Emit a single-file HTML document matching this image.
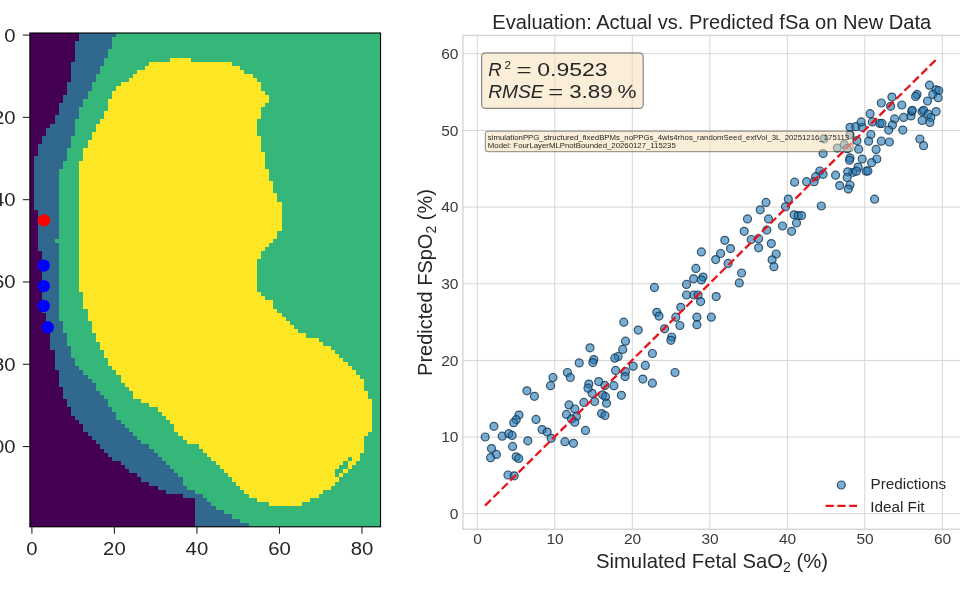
<!DOCTYPE html><html><head><meta charset="utf-8"><style>html,body{margin:0;padding:0;background:#fff;width:960px;height:606px;overflow:hidden}svg{display:block;will-change:transform}text{font-family:"Liberation Sans",sans-serif}</style></head><body>
<svg width="960" height="606" viewBox="0 0 960 606">
<rect width="960" height="606" fill="#fff"/>
<g shape-rendering="crispEdges"><rect x="30" y="33" width="351" height="494" fill="#35b779"/>
<rect x="30" y="33" width="49" height="4" fill="#440154"/>
<rect x="79" y="33" width="37" height="4" fill="#31688e"/>
<rect x="30" y="37" width="49" height="4" fill="#440154"/>
<rect x="79" y="37" width="33" height="4" fill="#31688e"/>
<rect x="30" y="41" width="45" height="4" fill="#440154"/>
<rect x="75" y="41" width="37" height="4" fill="#31688e"/>
<rect x="30" y="45" width="45" height="4" fill="#440154"/>
<rect x="75" y="45" width="37" height="4" fill="#31688e"/>
<rect x="30" y="49" width="45" height="5" fill="#440154"/>
<rect x="75" y="49" width="33" height="5" fill="#31688e"/>
<rect x="30" y="54" width="45" height="4" fill="#440154"/>
<rect x="75" y="54" width="33" height="4" fill="#31688e"/>
<rect x="30" y="58" width="45" height="4" fill="#440154"/>
<rect x="75" y="58" width="29" height="4" fill="#31688e"/>
<rect x="170" y="58" width="21" height="4" fill="#fde725"/>
<rect x="30" y="62" width="41" height="4" fill="#440154"/>
<rect x="71" y="62" width="33" height="4" fill="#31688e"/>
<rect x="149" y="62" width="83" height="4" fill="#fde725"/>
<rect x="30" y="66" width="41" height="4" fill="#440154"/>
<rect x="71" y="66" width="29" height="4" fill="#31688e"/>
<rect x="145" y="66" width="95" height="4" fill="#fde725"/>
<rect x="30" y="70" width="41" height="4" fill="#440154"/>
<rect x="71" y="70" width="29" height="4" fill="#31688e"/>
<rect x="137" y="70" width="107" height="4" fill="#fde725"/>
<rect x="30" y="74" width="41" height="4" fill="#440154"/>
<rect x="71" y="74" width="25" height="4" fill="#31688e"/>
<rect x="133" y="74" width="120" height="4" fill="#fde725"/>
<rect x="30" y="78" width="41" height="4" fill="#440154"/>
<rect x="71" y="78" width="25" height="4" fill="#31688e"/>
<rect x="129" y="78" width="128" height="4" fill="#fde725"/>
<rect x="30" y="82" width="37" height="4" fill="#440154"/>
<rect x="67" y="82" width="25" height="4" fill="#31688e"/>
<rect x="121" y="82" width="140" height="4" fill="#fde725"/>
<rect x="30" y="86" width="37" height="5" fill="#440154"/>
<rect x="67" y="86" width="25" height="5" fill="#31688e"/>
<rect x="116" y="86" width="145" height="5" fill="#fde725"/>
<rect x="30" y="91" width="37" height="4" fill="#440154"/>
<rect x="67" y="91" width="21" height="4" fill="#31688e"/>
<rect x="112" y="91" width="153" height="4" fill="#fde725"/>
<rect x="30" y="95" width="33" height="4" fill="#440154"/>
<rect x="63" y="95" width="25" height="4" fill="#31688e"/>
<rect x="112" y="95" width="157" height="4" fill="#fde725"/>
<rect x="30" y="99" width="33" height="4" fill="#440154"/>
<rect x="63" y="99" width="20" height="4" fill="#31688e"/>
<rect x="108" y="99" width="161" height="4" fill="#fde725"/>
<rect x="30" y="103" width="29" height="4" fill="#440154"/>
<rect x="59" y="103" width="24" height="4" fill="#31688e"/>
<rect x="108" y="103" width="157" height="4" fill="#fde725"/>
<rect x="30" y="107" width="29" height="4" fill="#440154"/>
<rect x="59" y="107" width="20" height="4" fill="#31688e"/>
<rect x="108" y="107" width="153" height="4" fill="#fde725"/>
<rect x="30" y="111" width="29" height="4" fill="#440154"/>
<rect x="59" y="111" width="20" height="4" fill="#31688e"/>
<rect x="104" y="111" width="157" height="4" fill="#fde725"/>
<rect x="30" y="115" width="25" height="4" fill="#440154"/>
<rect x="55" y="115" width="24" height="4" fill="#31688e"/>
<rect x="104" y="115" width="157" height="4" fill="#fde725"/>
<rect x="30" y="119" width="25" height="5" fill="#440154"/>
<rect x="55" y="119" width="20" height="5" fill="#31688e"/>
<rect x="100" y="119" width="157" height="5" fill="#fde725"/>
<rect x="30" y="124" width="20" height="4" fill="#440154"/>
<rect x="50" y="124" width="25" height="4" fill="#31688e"/>
<rect x="96" y="124" width="161" height="4" fill="#fde725"/>
<rect x="30" y="128" width="16" height="4" fill="#440154"/>
<rect x="46" y="128" width="29" height="4" fill="#31688e"/>
<rect x="96" y="128" width="161" height="4" fill="#fde725"/>
<rect x="30" y="132" width="16" height="4" fill="#440154"/>
<rect x="46" y="132" width="29" height="4" fill="#31688e"/>
<rect x="92" y="132" width="165" height="4" fill="#fde725"/>
<rect x="30" y="136" width="12" height="4" fill="#440154"/>
<rect x="42" y="136" width="29" height="4" fill="#31688e"/>
<rect x="92" y="136" width="169" height="4" fill="#fde725"/>
<rect x="30" y="140" width="12" height="4" fill="#440154"/>
<rect x="42" y="140" width="29" height="4" fill="#31688e"/>
<rect x="88" y="140" width="173" height="4" fill="#fde725"/>
<rect x="30" y="144" width="8" height="4" fill="#440154"/>
<rect x="38" y="144" width="33" height="4" fill="#31688e"/>
<rect x="88" y="144" width="173" height="4" fill="#fde725"/>
<rect x="30" y="148" width="8" height="4" fill="#440154"/>
<rect x="38" y="148" width="29" height="4" fill="#31688e"/>
<rect x="83" y="148" width="178" height="4" fill="#fde725"/>
<rect x="30" y="152" width="8" height="4" fill="#440154"/>
<rect x="38" y="152" width="29" height="4" fill="#31688e"/>
<rect x="83" y="152" width="182" height="4" fill="#fde725"/>
<rect x="30" y="156" width="4" height="5" fill="#440154"/>
<rect x="34" y="156" width="33" height="5" fill="#31688e"/>
<rect x="83" y="156" width="182" height="5" fill="#fde725"/>
<rect x="30" y="161" width="4" height="4" fill="#440154"/>
<rect x="34" y="161" width="29" height="4" fill="#31688e"/>
<rect x="79" y="161" width="186" height="4" fill="#fde725"/>
<rect x="30" y="165" width="4" height="4" fill="#440154"/>
<rect x="34" y="165" width="29" height="4" fill="#31688e"/>
<rect x="79" y="165" width="186" height="4" fill="#fde725"/>
<rect x="30" y="169" width="4" height="4" fill="#440154"/>
<rect x="34" y="169" width="25" height="4" fill="#31688e"/>
<rect x="79" y="169" width="190" height="4" fill="#fde725"/>
<rect x="30" y="173" width="4" height="4" fill="#440154"/>
<rect x="34" y="173" width="25" height="4" fill="#31688e"/>
<rect x="79" y="173" width="190" height="4" fill="#fde725"/>
<rect x="30" y="177" width="4" height="4" fill="#440154"/>
<rect x="34" y="177" width="25" height="4" fill="#31688e"/>
<rect x="79" y="177" width="190" height="4" fill="#fde725"/>
<rect x="30" y="181" width="4" height="4" fill="#440154"/>
<rect x="34" y="181" width="25" height="4" fill="#31688e"/>
<rect x="79" y="181" width="194" height="4" fill="#fde725"/>
<rect x="30" y="185" width="4" height="4" fill="#440154"/>
<rect x="34" y="185" width="25" height="4" fill="#31688e"/>
<rect x="79" y="185" width="194" height="4" fill="#fde725"/>
<rect x="30" y="189" width="4" height="4" fill="#440154"/>
<rect x="34" y="189" width="25" height="4" fill="#31688e"/>
<rect x="79" y="189" width="194" height="4" fill="#fde725"/>
<rect x="30" y="193" width="4" height="5" fill="#440154"/>
<rect x="34" y="193" width="25" height="5" fill="#31688e"/>
<rect x="79" y="193" width="198" height="5" fill="#fde725"/>
<rect x="30" y="198" width="4" height="4" fill="#440154"/>
<rect x="34" y="198" width="25" height="4" fill="#31688e"/>
<rect x="79" y="198" width="198" height="4" fill="#fde725"/>
<rect x="30" y="202" width="4" height="4" fill="#440154"/>
<rect x="34" y="202" width="25" height="4" fill="#31688e"/>
<rect x="79" y="202" width="203" height="4" fill="#fde725"/>
<rect x="30" y="206" width="4" height="4" fill="#440154"/>
<rect x="34" y="206" width="25" height="4" fill="#31688e"/>
<rect x="79" y="206" width="203" height="4" fill="#fde725"/>
<rect x="30" y="210" width="8" height="4" fill="#440154"/>
<rect x="38" y="210" width="21" height="4" fill="#31688e"/>
<rect x="79" y="210" width="203" height="4" fill="#fde725"/>
<rect x="30" y="214" width="8" height="4" fill="#440154"/>
<rect x="38" y="214" width="21" height="4" fill="#31688e"/>
<rect x="79" y="214" width="203" height="4" fill="#fde725"/>
<rect x="30" y="218" width="8" height="4" fill="#440154"/>
<rect x="38" y="218" width="21" height="4" fill="#31688e"/>
<rect x="79" y="218" width="203" height="4" fill="#fde725"/>
<rect x="30" y="222" width="8" height="4" fill="#440154"/>
<rect x="38" y="222" width="21" height="4" fill="#31688e"/>
<rect x="79" y="222" width="203" height="4" fill="#fde725"/>
<rect x="30" y="226" width="8" height="5" fill="#440154"/>
<rect x="38" y="226" width="21" height="5" fill="#31688e"/>
<rect x="79" y="226" width="203" height="5" fill="#fde725"/>
<rect x="30" y="231" width="8" height="4" fill="#440154"/>
<rect x="38" y="231" width="21" height="4" fill="#31688e"/>
<rect x="79" y="231" width="198" height="4" fill="#fde725"/>
<rect x="30" y="235" width="8" height="4" fill="#440154"/>
<rect x="38" y="235" width="21" height="4" fill="#31688e"/>
<rect x="79" y="235" width="198" height="4" fill="#fde725"/>
<rect x="30" y="239" width="8" height="4" fill="#440154"/>
<rect x="38" y="239" width="17" height="4" fill="#31688e"/>
<rect x="79" y="239" width="194" height="4" fill="#fde725"/>
<rect x="30" y="243" width="8" height="4" fill="#440154"/>
<rect x="38" y="243" width="21" height="4" fill="#31688e"/>
<rect x="79" y="243" width="190" height="4" fill="#fde725"/>
<rect x="30" y="247" width="8" height="4" fill="#440154"/>
<rect x="38" y="247" width="21" height="4" fill="#31688e"/>
<rect x="79" y="247" width="186" height="4" fill="#fde725"/>
<rect x="30" y="251" width="12" height="4" fill="#440154"/>
<rect x="42" y="251" width="17" height="4" fill="#31688e"/>
<rect x="79" y="251" width="182" height="4" fill="#fde725"/>
<rect x="30" y="255" width="12" height="4" fill="#440154"/>
<rect x="42" y="255" width="17" height="4" fill="#31688e"/>
<rect x="79" y="255" width="182" height="4" fill="#fde725"/>
<rect x="30" y="259" width="12" height="4" fill="#440154"/>
<rect x="42" y="259" width="17" height="4" fill="#31688e"/>
<rect x="79" y="259" width="178" height="4" fill="#fde725"/>
<rect x="30" y="263" width="12" height="5" fill="#440154"/>
<rect x="42" y="263" width="17" height="5" fill="#31688e"/>
<rect x="79" y="263" width="178" height="5" fill="#fde725"/>
<rect x="30" y="268" width="12" height="4" fill="#440154"/>
<rect x="42" y="268" width="17" height="4" fill="#31688e"/>
<rect x="79" y="268" width="178" height="4" fill="#fde725"/>
<rect x="30" y="272" width="12" height="4" fill="#440154"/>
<rect x="42" y="272" width="17" height="4" fill="#31688e"/>
<rect x="79" y="272" width="178" height="4" fill="#fde725"/>
<rect x="30" y="276" width="12" height="4" fill="#440154"/>
<rect x="42" y="276" width="17" height="4" fill="#31688e"/>
<rect x="79" y="276" width="178" height="4" fill="#fde725"/>
<rect x="30" y="280" width="12" height="4" fill="#440154"/>
<rect x="42" y="280" width="17" height="4" fill="#31688e"/>
<rect x="79" y="280" width="178" height="4" fill="#fde725"/>
<rect x="30" y="284" width="12" height="4" fill="#440154"/>
<rect x="42" y="284" width="17" height="4" fill="#31688e"/>
<rect x="79" y="284" width="178" height="4" fill="#fde725"/>
<rect x="30" y="288" width="12" height="4" fill="#440154"/>
<rect x="42" y="288" width="17" height="4" fill="#31688e"/>
<rect x="79" y="288" width="178" height="4" fill="#fde725"/>
<rect x="30" y="292" width="12" height="4" fill="#440154"/>
<rect x="42" y="292" width="17" height="4" fill="#31688e"/>
<rect x="83" y="292" width="178" height="4" fill="#fde725"/>
<rect x="30" y="296" width="12" height="4" fill="#440154"/>
<rect x="42" y="296" width="17" height="4" fill="#31688e"/>
<rect x="83" y="296" width="182" height="4" fill="#fde725"/>
<rect x="30" y="300" width="12" height="5" fill="#440154"/>
<rect x="42" y="300" width="17" height="5" fill="#31688e"/>
<rect x="83" y="300" width="190" height="5" fill="#fde725"/>
<rect x="30" y="305" width="12" height="4" fill="#440154"/>
<rect x="42" y="305" width="17" height="4" fill="#31688e"/>
<rect x="83" y="305" width="190" height="4" fill="#fde725"/>
<rect x="30" y="309" width="12" height="4" fill="#440154"/>
<rect x="42" y="309" width="17" height="4" fill="#31688e"/>
<rect x="88" y="309" width="189" height="4" fill="#fde725"/>
<rect x="30" y="313" width="16" height="4" fill="#440154"/>
<rect x="46" y="313" width="13" height="4" fill="#31688e"/>
<rect x="88" y="313" width="194" height="4" fill="#fde725"/>
<rect x="30" y="317" width="16" height="4" fill="#440154"/>
<rect x="46" y="317" width="13" height="4" fill="#31688e"/>
<rect x="88" y="317" width="198" height="4" fill="#fde725"/>
<rect x="30" y="321" width="16" height="4" fill="#440154"/>
<rect x="46" y="321" width="17" height="4" fill="#31688e"/>
<rect x="92" y="321" width="198" height="4" fill="#fde725"/>
<rect x="30" y="325" width="16" height="4" fill="#440154"/>
<rect x="46" y="325" width="17" height="4" fill="#31688e"/>
<rect x="92" y="325" width="202" height="4" fill="#fde725"/>
<rect x="30" y="329" width="16" height="4" fill="#440154"/>
<rect x="46" y="329" width="17" height="4" fill="#31688e"/>
<rect x="92" y="329" width="206" height="4" fill="#fde725"/>
<rect x="30" y="333" width="20" height="5" fill="#440154"/>
<rect x="50" y="333" width="17" height="5" fill="#31688e"/>
<rect x="96" y="333" width="210" height="5" fill="#fde725"/>
<rect x="30" y="338" width="20" height="4" fill="#440154"/>
<rect x="50" y="338" width="17" height="4" fill="#31688e"/>
<rect x="96" y="338" width="223" height="4" fill="#fde725"/>
<rect x="30" y="342" width="20" height="4" fill="#440154"/>
<rect x="50" y="342" width="17" height="4" fill="#31688e"/>
<rect x="100" y="342" width="223" height="4" fill="#fde725"/>
<rect x="30" y="346" width="20" height="4" fill="#440154"/>
<rect x="50" y="346" width="21" height="4" fill="#31688e"/>
<rect x="100" y="346" width="231" height="4" fill="#fde725"/>
<rect x="30" y="350" width="25" height="4" fill="#440154"/>
<rect x="55" y="350" width="16" height="4" fill="#31688e"/>
<rect x="104" y="350" width="231" height="4" fill="#fde725"/>
<rect x="30" y="354" width="25" height="4" fill="#440154"/>
<rect x="55" y="354" width="16" height="4" fill="#31688e"/>
<rect x="104" y="354" width="235" height="4" fill="#fde725"/>
<rect x="30" y="358" width="25" height="4" fill="#440154"/>
<rect x="55" y="358" width="20" height="4" fill="#31688e"/>
<rect x="108" y="358" width="235" height="4" fill="#fde725"/>
<rect x="30" y="362" width="25" height="4" fill="#440154"/>
<rect x="55" y="362" width="20" height="4" fill="#31688e"/>
<rect x="108" y="362" width="240" height="4" fill="#fde725"/>
<rect x="30" y="366" width="25" height="4" fill="#440154"/>
<rect x="55" y="366" width="24" height="4" fill="#31688e"/>
<rect x="112" y="366" width="240" height="4" fill="#fde725"/>
<rect x="30" y="370" width="29" height="5" fill="#440154"/>
<rect x="59" y="370" width="24" height="5" fill="#31688e"/>
<rect x="116" y="370" width="240" height="5" fill="#fde725"/>
<rect x="30" y="375" width="29" height="4" fill="#440154"/>
<rect x="59" y="375" width="29" height="4" fill="#31688e"/>
<rect x="121" y="375" width="239" height="4" fill="#fde725"/>
<rect x="30" y="379" width="29" height="4" fill="#440154"/>
<rect x="59" y="379" width="33" height="4" fill="#31688e"/>
<rect x="121" y="379" width="243" height="4" fill="#fde725"/>
<rect x="30" y="383" width="29" height="4" fill="#440154"/>
<rect x="59" y="383" width="37" height="4" fill="#31688e"/>
<rect x="125" y="383" width="239" height="4" fill="#fde725"/>
<rect x="30" y="387" width="33" height="4" fill="#440154"/>
<rect x="63" y="387" width="33" height="4" fill="#31688e"/>
<rect x="129" y="387" width="235" height="4" fill="#fde725"/>
<rect x="30" y="391" width="33" height="4" fill="#440154"/>
<rect x="63" y="391" width="37" height="4" fill="#31688e"/>
<rect x="133" y="391" width="235" height="4" fill="#fde725"/>
<rect x="30" y="395" width="33" height="4" fill="#440154"/>
<rect x="63" y="395" width="41" height="4" fill="#31688e"/>
<rect x="133" y="395" width="235" height="4" fill="#fde725"/>
<rect x="30" y="399" width="37" height="4" fill="#440154"/>
<rect x="67" y="399" width="41" height="4" fill="#31688e"/>
<rect x="141" y="399" width="231" height="4" fill="#fde725"/>
<rect x="30" y="403" width="37" height="4" fill="#440154"/>
<rect x="67" y="403" width="41" height="4" fill="#31688e"/>
<rect x="149" y="403" width="223" height="4" fill="#fde725"/>
<rect x="30" y="407" width="41" height="5" fill="#440154"/>
<rect x="71" y="407" width="41" height="5" fill="#31688e"/>
<rect x="158" y="407" width="214" height="5" fill="#fde725"/>
<rect x="30" y="412" width="41" height="4" fill="#440154"/>
<rect x="71" y="412" width="45" height="4" fill="#31688e"/>
<rect x="162" y="412" width="210" height="4" fill="#fde725"/>
<rect x="30" y="416" width="45" height="4" fill="#440154"/>
<rect x="75" y="416" width="41" height="4" fill="#31688e"/>
<rect x="166" y="416" width="206" height="4" fill="#fde725"/>
<rect x="30" y="420" width="49" height="4" fill="#440154"/>
<rect x="79" y="420" width="42" height="4" fill="#31688e"/>
<rect x="170" y="420" width="202" height="4" fill="#fde725"/>
<rect x="30" y="424" width="53" height="4" fill="#440154"/>
<rect x="83" y="424" width="42" height="4" fill="#31688e"/>
<rect x="174" y="424" width="198" height="4" fill="#fde725"/>
<rect x="30" y="428" width="53" height="4" fill="#440154"/>
<rect x="83" y="428" width="46" height="4" fill="#31688e"/>
<rect x="174" y="428" width="198" height="4" fill="#fde725"/>
<rect x="30" y="432" width="58" height="4" fill="#440154"/>
<rect x="88" y="432" width="45" height="4" fill="#31688e"/>
<rect x="178" y="432" width="190" height="4" fill="#fde725"/>
<rect x="30" y="436" width="62" height="4" fill="#440154"/>
<rect x="92" y="436" width="45" height="4" fill="#31688e"/>
<rect x="183" y="436" width="181" height="4" fill="#fde725"/>
<rect x="30" y="440" width="66" height="4" fill="#440154"/>
<rect x="96" y="440" width="45" height="4" fill="#31688e"/>
<rect x="187" y="440" width="177" height="4" fill="#fde725"/>
<rect x="30" y="444" width="70" height="5" fill="#440154"/>
<rect x="100" y="444" width="49" height="5" fill="#31688e"/>
<rect x="199" y="444" width="165" height="5" fill="#fde725"/>
<rect x="30" y="449" width="74" height="4" fill="#440154"/>
<rect x="104" y="449" width="50" height="4" fill="#31688e"/>
<rect x="203" y="449" width="161" height="4" fill="#fde725"/>
<rect x="30" y="453" width="78" height="4" fill="#440154"/>
<rect x="108" y="453" width="50" height="4" fill="#31688e"/>
<rect x="207" y="453" width="153" height="4" fill="#fde725"/>
<rect x="30" y="457" width="82" height="4" fill="#440154"/>
<rect x="112" y="457" width="50" height="4" fill="#31688e"/>
<rect x="211" y="457" width="137" height="4" fill="#fde725"/>
<rect x="352" y="457" width="8" height="4" fill="#fde725"/>
<rect x="30" y="461" width="91" height="4" fill="#440154"/>
<rect x="121" y="461" width="45" height="4" fill="#31688e"/>
<rect x="216" y="461" width="127" height="4" fill="#fde725"/>
<rect x="348" y="461" width="8" height="4" fill="#fde725"/>
<rect x="30" y="465" width="95" height="4" fill="#440154"/>
<rect x="125" y="465" width="45" height="4" fill="#31688e"/>
<rect x="220" y="465" width="119" height="4" fill="#fde725"/>
<rect x="348" y="465" width="4" height="4" fill="#fde725"/>
<rect x="30" y="469" width="99" height="4" fill="#440154"/>
<rect x="129" y="469" width="45" height="4" fill="#31688e"/>
<rect x="224" y="469" width="111" height="4" fill="#fde725"/>
<rect x="343" y="469" width="5" height="4" fill="#fde725"/>
<rect x="30" y="473" width="107" height="4" fill="#440154"/>
<rect x="137" y="473" width="41" height="4" fill="#31688e"/>
<rect x="228" y="473" width="107" height="4" fill="#fde725"/>
<rect x="339" y="473" width="4" height="4" fill="#fde725"/>
<rect x="30" y="477" width="111" height="5" fill="#440154"/>
<rect x="141" y="477" width="42" height="5" fill="#31688e"/>
<rect x="232" y="477" width="107" height="5" fill="#fde725"/>
<rect x="30" y="482" width="119" height="4" fill="#440154"/>
<rect x="149" y="482" width="34" height="4" fill="#31688e"/>
<rect x="236" y="482" width="99" height="4" fill="#fde725"/>
<rect x="30" y="486" width="128" height="4" fill="#440154"/>
<rect x="158" y="486" width="29" height="4" fill="#31688e"/>
<rect x="240" y="486" width="91" height="4" fill="#fde725"/>
<rect x="30" y="490" width="136" height="4" fill="#440154"/>
<rect x="166" y="490" width="29" height="4" fill="#31688e"/>
<rect x="244" y="490" width="79" height="4" fill="#fde725"/>
<rect x="30" y="494" width="153" height="4" fill="#440154"/>
<rect x="183" y="494" width="20" height="4" fill="#31688e"/>
<rect x="249" y="494" width="70" height="4" fill="#fde725"/>
<rect x="30" y="498" width="165" height="4" fill="#440154"/>
<rect x="195" y="498" width="12" height="4" fill="#31688e"/>
<rect x="257" y="498" width="53" height="4" fill="#fde725"/>
<rect x="30" y="502" width="165" height="4" fill="#440154"/>
<rect x="195" y="502" width="16" height="4" fill="#31688e"/>
<rect x="269" y="502" width="33" height="4" fill="#fde725"/>
<rect x="30" y="506" width="165" height="4" fill="#440154"/>
<rect x="195" y="506" width="21" height="4" fill="#31688e"/>
<rect x="30" y="510" width="165" height="4" fill="#440154"/>
<rect x="195" y="510" width="29" height="4" fill="#31688e"/>
<rect x="30" y="514" width="165" height="5" fill="#440154"/>
<rect x="195" y="514" width="37" height="5" fill="#31688e"/>
<rect x="30" y="519" width="165" height="4" fill="#440154"/>
<rect x="195" y="519" width="45" height="4" fill="#31688e"/>
<rect x="30" y="523" width="165" height="4" fill="#440154"/>
<rect x="195" y="523" width="54" height="4" fill="#31688e"/>
</g>
<circle cx="44.0" cy="220.4" r="6.2" fill="#ff0000"/>
<circle cx="43.8" cy="265.6" r="6.2" fill="#0000ff"/>
<circle cx="43.8" cy="286.1" r="6.2" fill="#0000ff"/>
<circle cx="43.8" cy="306.0" r="6.2" fill="#0000ff"/>
<circle cx="47.8" cy="327.3" r="6.2" fill="#0000ff"/>
<rect x="29.84" y="33.00" width="350.71" height="493.80" fill="none" stroke="#000" stroke-width="1.1"/>
<line x1="22.84" y1="35.06" x2="29.84" y2="35.06" stroke="#262626" stroke-width="1.1"/>
<text x="4.24" y="41.56" font-size="18" fill="#262626" textLength="11.3" lengthAdjust="spacingAndGlyphs">0</text>
<line x1="22.84" y1="117.36" x2="29.84" y2="117.36" stroke="#262626" stroke-width="1.1"/>
<text x="-7.06" y="123.86" font-size="18" fill="#262626" textLength="22.6" lengthAdjust="spacingAndGlyphs">20</text>
<line x1="22.84" y1="199.66" x2="29.84" y2="199.66" stroke="#262626" stroke-width="1.1"/>
<text x="-7.06" y="206.16" font-size="18" fill="#262626" textLength="22.6" lengthAdjust="spacingAndGlyphs">40</text>
<line x1="22.84" y1="281.96" x2="29.84" y2="281.96" stroke="#262626" stroke-width="1.1"/>
<text x="-7.06" y="288.46" font-size="18" fill="#262626" textLength="22.6" lengthAdjust="spacingAndGlyphs">60</text>
<line x1="22.84" y1="364.26" x2="29.84" y2="364.26" stroke="#262626" stroke-width="1.1"/>
<text x="-7.06" y="370.76" font-size="18" fill="#262626" textLength="22.6" lengthAdjust="spacingAndGlyphs">80</text>
<line x1="22.84" y1="446.56" x2="29.84" y2="446.56" stroke="#262626" stroke-width="1.1"/>
<text x="-18.36" y="453.06" font-size="18" fill="#262626" textLength="33.9" lengthAdjust="spacingAndGlyphs">100</text>
<line x1="31.90" y1="526.80" x2="31.90" y2="533.80" stroke="#262626" stroke-width="1.1"/>
<text x="26.25" y="554.60" font-size="18" fill="#262626" textLength="11.3" lengthAdjust="spacingAndGlyphs">0</text>
<line x1="114.42" y1="526.80" x2="114.42" y2="533.80" stroke="#262626" stroke-width="1.1"/>
<text x="103.12" y="554.60" font-size="18" fill="#262626" textLength="22.6" lengthAdjust="spacingAndGlyphs">20</text>
<line x1="196.94" y1="526.80" x2="196.94" y2="533.80" stroke="#262626" stroke-width="1.1"/>
<text x="185.64" y="554.60" font-size="18" fill="#262626" textLength="22.6" lengthAdjust="spacingAndGlyphs">40</text>
<line x1="279.46" y1="526.80" x2="279.46" y2="533.80" stroke="#262626" stroke-width="1.1"/>
<text x="268.16" y="554.60" font-size="18" fill="#262626" textLength="22.6" lengthAdjust="spacingAndGlyphs">60</text>
<line x1="361.98" y1="526.80" x2="361.98" y2="533.80" stroke="#262626" stroke-width="1.1"/>
<text x="350.68" y="554.60" font-size="18" fill="#262626" textLength="22.6" lengthAdjust="spacingAndGlyphs">80</text>
<line x1="477.30" y1="35.4" x2="477.30" y2="529.3" stroke="#d5d5d5" stroke-width="1"/>
<line x1="462.9" y1="513.75" x2="990" y2="513.75" stroke="#d5d5d5" stroke-width="1"/>
<line x1="554.80" y1="35.4" x2="554.80" y2="529.3" stroke="#d5d5d5" stroke-width="1"/>
<line x1="462.9" y1="437.08" x2="990" y2="437.08" stroke="#d5d5d5" stroke-width="1"/>
<line x1="632.30" y1="35.4" x2="632.30" y2="529.3" stroke="#d5d5d5" stroke-width="1"/>
<line x1="462.9" y1="360.41" x2="990" y2="360.41" stroke="#d5d5d5" stroke-width="1"/>
<line x1="709.80" y1="35.4" x2="709.80" y2="529.3" stroke="#d5d5d5" stroke-width="1"/>
<line x1="462.9" y1="283.74" x2="990" y2="283.74" stroke="#d5d5d5" stroke-width="1"/>
<line x1="787.30" y1="35.4" x2="787.30" y2="529.3" stroke="#d5d5d5" stroke-width="1"/>
<line x1="462.9" y1="207.07" x2="990" y2="207.07" stroke="#d5d5d5" stroke-width="1"/>
<line x1="864.80" y1="35.4" x2="864.80" y2="529.3" stroke="#d5d5d5" stroke-width="1"/>
<line x1="462.9" y1="130.40" x2="990" y2="130.40" stroke="#d5d5d5" stroke-width="1"/>
<line x1="942.30" y1="35.4" x2="942.30" y2="529.3" stroke="#d5d5d5" stroke-width="1"/>
<line x1="462.9" y1="53.73" x2="990" y2="53.73" stroke="#d5d5d5" stroke-width="1"/>
<rect x="462.9" y="35.4" width="527.1" height="493.9" fill="none" stroke="#d5d5d5" stroke-width="1.4"/>
<g fill="#1f77b4" fill-opacity="0.6" stroke="#14344f" stroke-opacity="0.8" stroke-width="1.2">
<circle cx="526.9" cy="390.8" r="4.0"/>
<circle cx="534.4" cy="396.3" r="4.0"/>
<circle cx="592.1" cy="393.3" r="4.0"/>
<circle cx="569.0" cy="404.9" r="4.0"/>
<circle cx="583.9" cy="402.4" r="4.0"/>
<circle cx="594.6" cy="401.6" r="4.0"/>
<circle cx="574.8" cy="409.0" r="4.0"/>
<circle cx="566.5" cy="414.4" r="4.0"/>
<circle cx="576.4" cy="416.4" r="4.0"/>
<circle cx="571.5" cy="418.9" r="4.0"/>
<circle cx="574.8" cy="422.2" r="4.0"/>
<circle cx="585.5" cy="430.4" r="4.0"/>
<circle cx="519.0" cy="415.1" r="4.0"/>
<circle cx="516.2" cy="419.7" r="4.0"/>
<circle cx="513.7" cy="422.7" r="4.0"/>
<circle cx="536.0" cy="419.4" r="4.0"/>
<circle cx="493.9" cy="426.3" r="4.0"/>
<circle cx="485.2" cy="437.0" r="4.0"/>
<circle cx="502.2" cy="436.2" r="4.0"/>
<circle cx="508.8" cy="433.7" r="4.0"/>
<circle cx="512.1" cy="435.4" r="4.0"/>
<circle cx="542.1" cy="429.6" r="4.0"/>
<circle cx="547.2" cy="432.1" r="4.0"/>
<circle cx="551.2" cy="438.3" r="4.0"/>
<circle cx="527.8" cy="440.8" r="4.0"/>
<circle cx="564.9" cy="441.7" r="4.0"/>
<circle cx="573.5" cy="443.3" r="4.0"/>
<circle cx="491.5" cy="448.6" r="4.0"/>
<circle cx="496.4" cy="454.4" r="4.0"/>
<circle cx="490.6" cy="457.7" r="4.0"/>
<circle cx="512.6" cy="446.4" r="4.0"/>
<circle cx="516.2" cy="456.8" r="4.0"/>
<circle cx="518.7" cy="458.5" r="4.0"/>
<circle cx="508.0" cy="475.0" r="4.0"/>
<circle cx="514.2" cy="475.8" r="4.0"/>
<circle cx="590.0" cy="347.8" r="4.0"/>
<circle cx="593.8" cy="359.6" r="4.0"/>
<circle cx="592.9" cy="362.6" r="4.0"/>
<circle cx="579.2" cy="362.9" r="4.0"/>
<circle cx="567.4" cy="372.5" r="4.0"/>
<circle cx="570.3" cy="377.5" r="4.0"/>
<circle cx="553.0" cy="377.5" r="4.0"/>
<circle cx="550.5" cy="385.7" r="4.0"/>
<circle cx="588.8" cy="384.1" r="4.0"/>
<circle cx="588.0" cy="388.2" r="4.0"/>
<circle cx="598.7" cy="381.6" r="4.0"/>
<circle cx="686.5" cy="295.0" r="4.0"/>
<circle cx="694.0" cy="295.0" r="4.0"/>
<circle cx="698.1" cy="295.0" r="4.0"/>
<circle cx="700.6" cy="301.6" r="4.0"/>
<circle cx="716.2" cy="296.6" r="4.0"/>
<circle cx="680.8" cy="307.3" r="4.0"/>
<circle cx="656.8" cy="312.3" r="4.0"/>
<circle cx="659.0" cy="316.1" r="4.0"/>
<circle cx="675.8" cy="317.2" r="4.0"/>
<circle cx="679.9" cy="325.5" r="4.0"/>
<circle cx="696.9" cy="317.2" r="4.0"/>
<circle cx="696.9" cy="324.7" r="4.0"/>
<circle cx="711.3" cy="317.2" r="4.0"/>
<circle cx="623.8" cy="322.2" r="4.0"/>
<circle cx="638.2" cy="330.1" r="4.0"/>
<circle cx="664.6" cy="328.8" r="4.0"/>
<circle cx="671.7" cy="337.0" r="4.0"/>
<circle cx="670.9" cy="340.3" r="4.0"/>
<circle cx="625.5" cy="341.2" r="4.0"/>
<circle cx="622.7" cy="349.4" r="4.0"/>
<circle cx="618.1" cy="356.5" r="4.0"/>
<circle cx="614.8" cy="358.2" r="4.0"/>
<circle cx="652.4" cy="353.5" r="4.0"/>
<circle cx="633.2" cy="366.2" r="4.0"/>
<circle cx="645.3" cy="365.4" r="4.0"/>
<circle cx="615.6" cy="370.4" r="4.0"/>
<circle cx="625.5" cy="371.7" r="4.0"/>
<circle cx="625.1" cy="376.6" r="4.0"/>
<circle cx="675.0" cy="372.5" r="4.0"/>
<circle cx="642.8" cy="379.1" r="4.0"/>
<circle cx="652.4" cy="383.2" r="4.0"/>
<circle cx="604.9" cy="385.4" r="4.0"/>
<circle cx="613.9" cy="385.7" r="4.0"/>
<circle cx="621.4" cy="395.3" r="4.0"/>
<circle cx="602.6" cy="394.8" r="4.0"/>
<circle cx="605.5" cy="396.7" r="4.0"/>
<circle cx="606.5" cy="403.2" r="4.0"/>
<circle cx="601.6" cy="413.6" r="4.0"/>
<circle cx="605.0" cy="415.5" r="4.0"/>
<circle cx="701.4" cy="251.9" r="4.0"/>
<circle cx="715.7" cy="259.6" r="4.0"/>
<circle cx="720.6" cy="253.5" r="4.0"/>
<circle cx="695.9" cy="268.4" r="4.0"/>
<circle cx="693.6" cy="278.8" r="4.0"/>
<circle cx="703.0" cy="277.1" r="4.0"/>
<circle cx="701.4" cy="279.9" r="4.0"/>
<circle cx="686.5" cy="284.4" r="4.0"/>
<circle cx="654.4" cy="287.4" r="4.0"/>
<circle cx="766.0" cy="202.4" r="4.0"/>
<circle cx="788.3" cy="199.1" r="4.0"/>
<circle cx="821.3" cy="206.0" r="4.0"/>
<circle cx="760.2" cy="209.8" r="4.0"/>
<circle cx="785.5" cy="206.8" r="4.0"/>
<circle cx="794.1" cy="214.8" r="4.0"/>
<circle cx="798.2" cy="215.6" r="4.0"/>
<circle cx="801.5" cy="215.6" r="4.0"/>
<circle cx="796.5" cy="223.0" r="4.0"/>
<circle cx="747.5" cy="218.9" r="4.0"/>
<circle cx="768.5" cy="218.9" r="4.0"/>
<circle cx="782.5" cy="226.0" r="4.0"/>
<circle cx="791.6" cy="231.3" r="4.0"/>
<circle cx="744.2" cy="231.3" r="4.0"/>
<circle cx="766.8" cy="230.1" r="4.0"/>
<circle cx="724.8" cy="240.3" r="4.0"/>
<circle cx="751.2" cy="239.5" r="4.0"/>
<circle cx="758.6" cy="238.7" r="4.0"/>
<circle cx="758.6" cy="247.8" r="4.0"/>
<circle cx="771.3" cy="243.6" r="4.0"/>
<circle cx="730.5" cy="248.6" r="4.0"/>
<circle cx="728.1" cy="263.4" r="4.0"/>
<circle cx="776.2" cy="254.0" r="4.0"/>
<circle cx="772.1" cy="259.8" r="4.0"/>
<circle cx="773.9" cy="266.7" r="4.0"/>
<circle cx="741.6" cy="273.0" r="4.0"/>
<circle cx="739.3" cy="282.9" r="4.0"/>
<circle cx="824.0" cy="138.8" r="4.0"/>
<circle cx="837.3" cy="148.1" r="4.0"/>
<circle cx="844.3" cy="144.6" r="4.0"/>
<circle cx="823.1" cy="153.6" r="4.0"/>
<circle cx="819.8" cy="171.0" r="4.0"/>
<circle cx="823.1" cy="174.3" r="4.0"/>
<circle cx="815.7" cy="176.7" r="4.0"/>
<circle cx="814.1" cy="181.7" r="4.0"/>
<circle cx="806.6" cy="181.7" r="4.0"/>
<circle cx="794.6" cy="182.2" r="4.0"/>
<circle cx="835.6" cy="175.2" r="4.0"/>
<circle cx="839.7" cy="185.6" r="4.0"/>
<circle cx="850.0" cy="127.3" r="4.0"/>
<circle cx="855.8" cy="126.7" r="4.0"/>
<circle cx="862.2" cy="127.3" r="4.0"/>
<circle cx="850.0" cy="134.8" r="4.0"/>
<circle cx="857.0" cy="140.6" r="4.0"/>
<circle cx="847.2" cy="148.7" r="4.0"/>
<circle cx="858.7" cy="149.2" r="4.0"/>
<circle cx="850.0" cy="157.9" r="4.0"/>
<circle cx="849.5" cy="160.2" r="4.0"/>
<circle cx="862.2" cy="159.1" r="4.0"/>
<circle cx="858.1" cy="167.1" r="4.0"/>
<circle cx="852.9" cy="172.3" r="4.0"/>
<circle cx="847.7" cy="171.8" r="4.0"/>
<circle cx="856.4" cy="171.2" r="4.0"/>
<circle cx="866.2" cy="171.2" r="4.0"/>
<circle cx="847.2" cy="177.5" r="4.0"/>
<circle cx="850.0" cy="185.0" r="4.0"/>
<circle cx="848.3" cy="189.1" r="4.0"/>
<circle cx="870.1" cy="113.7" r="4.0"/>
<circle cx="861.2" cy="121.9" r="4.0"/>
<circle cx="872.3" cy="121.9" r="4.0"/>
<circle cx="879.8" cy="123.4" r="4.0"/>
<circle cx="882.0" cy="123.4" r="4.0"/>
<circle cx="894.6" cy="118.9" r="4.0"/>
<circle cx="892.4" cy="124.9" r="4.0"/>
<circle cx="888.7" cy="130.1" r="4.0"/>
<circle cx="902.8" cy="130.1" r="4.0"/>
<circle cx="903.6" cy="117.4" r="4.0"/>
<circle cx="911.0" cy="115.9" r="4.0"/>
<circle cx="911.7" cy="111.5" r="4.0"/>
<circle cx="922.1" cy="111.5" r="4.0"/>
<circle cx="922.1" cy="120.4" r="4.0"/>
<circle cx="919.9" cy="139.0" r="4.0"/>
<circle cx="923.6" cy="145.7" r="4.0"/>
<circle cx="870.9" cy="134.5" r="4.0"/>
<circle cx="868.6" cy="141.2" r="4.0"/>
<circle cx="881.3" cy="141.2" r="4.0"/>
<circle cx="889.4" cy="142.0" r="4.0"/>
<circle cx="876.1" cy="149.4" r="4.0"/>
<circle cx="876.8" cy="159.0" r="4.0"/>
<circle cx="871.6" cy="162.7" r="4.0"/>
<circle cx="867.9" cy="170.9" r="4.0"/>
<circle cx="874.6" cy="199.2" r="4.0"/>
<circle cx="929.5" cy="85.2" r="4.0"/>
<circle cx="936.1" cy="89.8" r="4.0"/>
<circle cx="938.7" cy="90.5" r="4.0"/>
<circle cx="932.8" cy="94.4" r="4.0"/>
<circle cx="938.1" cy="97.7" r="4.0"/>
<circle cx="917.0" cy="94.4" r="4.0"/>
<circle cx="915.6" cy="96.4" r="4.0"/>
<circle cx="891.9" cy="97.1" r="4.0"/>
<circle cx="881.3" cy="103.0" r="4.0"/>
<circle cx="890.6" cy="106.3" r="4.0"/>
<circle cx="901.8" cy="105.0" r="4.0"/>
<circle cx="927.5" cy="101.0" r="4.0"/>
<circle cx="912.3" cy="110.3" r="4.0"/>
<circle cx="923.6" cy="110.3" r="4.0"/>
<circle cx="928.2" cy="114.2" r="4.0"/>
<circle cx="936.1" cy="111.6" r="4.0"/>
<circle cx="930.8" cy="117.5" r="4.0"/>
<circle cx="929.9" cy="122.5" r="4.0"/>
</g>
<line x1="485.05" y1="505.58" x2="936.49" y2="59.18" stroke="#e8141c" stroke-width="2.3" stroke-dasharray="8.2 3.6"/>
<text x="477.50" y="544.2" font-size="15.5" fill="#3a3a3a" text-anchor="middle">0</text>
<text x="458.4" y="519.05" font-size="15.5" fill="#3a3a3a" text-anchor="end">0</text>
<text x="555.00" y="544.2" font-size="15.5" fill="#3a3a3a" text-anchor="middle">10</text>
<text x="458.4" y="442.38" font-size="15.5" fill="#3a3a3a" text-anchor="end">10</text>
<text x="632.50" y="544.2" font-size="15.5" fill="#3a3a3a" text-anchor="middle">20</text>
<text x="458.4" y="365.71" font-size="15.5" fill="#3a3a3a" text-anchor="end">20</text>
<text x="710.00" y="544.2" font-size="15.5" fill="#3a3a3a" text-anchor="middle">30</text>
<text x="458.4" y="289.04" font-size="15.5" fill="#3a3a3a" text-anchor="end">30</text>
<text x="787.50" y="544.2" font-size="15.5" fill="#3a3a3a" text-anchor="middle">40</text>
<text x="458.4" y="212.37" font-size="15.5" fill="#3a3a3a" text-anchor="end">40</text>
<text x="865.00" y="544.2" font-size="15.5" fill="#3a3a3a" text-anchor="middle">50</text>
<text x="458.4" y="135.70" font-size="15.5" fill="#3a3a3a" text-anchor="end">50</text>
<text x="942.50" y="544.2" font-size="15.5" fill="#3a3a3a" text-anchor="middle">60</text>
<text x="458.4" y="59.03" font-size="15.5" fill="#3a3a3a" text-anchor="end">60</text>
<text x="711.8" y="28.8" font-size="20.1" fill="#262626" text-anchor="middle">Evaluation: Actual vs. Predicted fSa on New Data</text>
<text x="712" y="568" font-size="20.3" fill="#262626" text-anchor="middle">Simulated Fetal SaO<tspan font-size="14" dy="4">2</tspan><tspan dy="-4"> (%)</tspan></text>
<text transform="translate(431.5,282.5) rotate(-90)" x="0" y="0" font-size="20" fill="#262626" text-anchor="middle">Predicted FSpO<tspan font-size="14" dy="4">2</tspan><tspan dy="-4"> (%)</tspan></text>
<rect x="481.6" y="52.9" width="161.6" height="55.5" rx="3.8" fill="#f5deb3" fill-opacity="0.5" stroke="#000" stroke-opacity="0.45" stroke-width="1.2"/>
<text x="488.2" y="76.3" font-size="18.5" font-style="italic" fill="#262626">R</text>
<text x="504.4" y="69.4" font-size="11.6" fill="#262626">2</text>
<text x="516.5" y="76.3" font-size="18.5" fill="#262626" textLength="15" lengthAdjust="spacingAndGlyphs">=</text>
<text x="537.2" y="76.3" font-size="18.5" fill="#262626" textLength="70.5" lengthAdjust="spacingAndGlyphs">0.9523</text>
<text x="488.2" y="98.3" font-size="18.5" font-style="italic" fill="#262626" textLength="55.5" lengthAdjust="spacingAndGlyphs">RMSE</text>
<text x="548.2" y="98.3" font-size="18.5" fill="#262626" textLength="15" lengthAdjust="spacingAndGlyphs">=</text>
<text x="569.2" y="98.3" font-size="18.5" fill="#262626" textLength="43.5" lengthAdjust="spacingAndGlyphs">3.89</text>
<text x="617.5" y="98.3" font-size="18.5" fill="#262626" textLength="19" lengthAdjust="spacingAndGlyphs">%</text>
<rect x="485.3" y="131.2" width="367.7" height="20.5" rx="2.5" fill="#f5deb3" fill-opacity="0.5" stroke="#000" stroke-opacity="0.45" stroke-width="1"/>
<text x="487.8" y="140.3" font-size="7.8" fill="#262626">simulationPPG_structured_fixedBPMs_noPPGs_4wls4rhos_randomSeed_extVol_3L_20251216_175113</text>
<text x="487.8" y="148" font-size="7.8" fill="#262626">Model: FourLayerMLPnotBounded_20260127_115235</text>
<circle cx="841.3" cy="485" r="4" fill="#1f77b4" fill-opacity="0.6" stroke="#14344f" stroke-opacity="0.8" stroke-width="1.2"/>
<text x="870.5" y="489.2" font-size="15.3" fill="#262626">Predictions</text>
<line x1="825.6" y1="505.9" x2="857" y2="505.9" stroke="#e8141c" stroke-width="2.3" stroke-dasharray="8.2 3.6"/>
<text x="870.2" y="511.6" font-size="15.3" fill="#262626">Ideal Fit</text>
</svg></body></html>
